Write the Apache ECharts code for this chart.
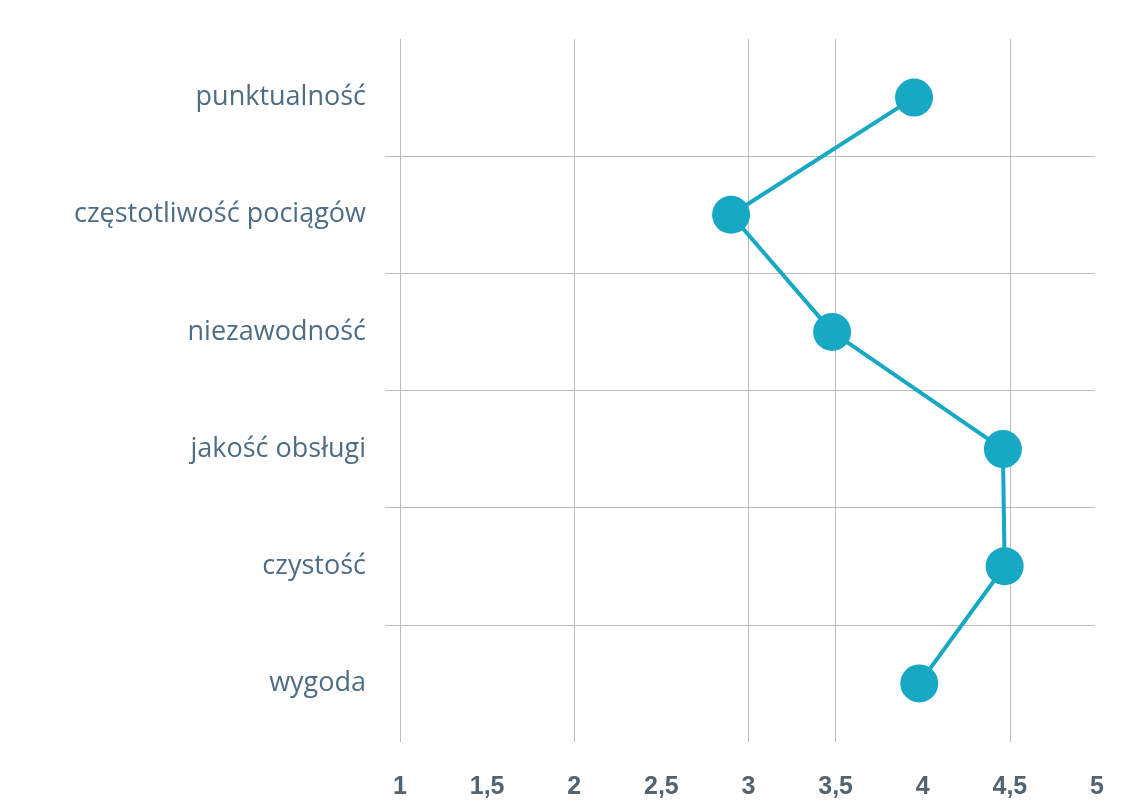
<!DOCTYPE html>
<html>
<head>
<meta charset="utf-8">
<script src="https://cdn.jsdelivr.net/npm/echarts@6/dist/echarts.min.js"></script>
<style>
html,body{margin:0;padding:0;background:#fff;}
#chart{width:1124px;height:803px;}
</style>
</head>
<body>
<div id="chart"></div>
<script>
const categories = ["punktualność", "częstotliwość pociągów", "niezawodność", "jakość obsługi", "czystość", "wygoda"];
const values = [3.95, 2.9, 3.48, 4.46, 4.47, 3.98];
const xTicks = [1, 1.5, 2, 2.5, 3, 3.5, 4, 4.5, 5];
const gridX = [1, 2, 3, 3.5, 4.5];

const chart = echarts.init(document.getElementById('chart'));
const gridColor = '#bdbdbd';
chart.setOption({
  animation: false,
  backgroundColor: '#fff',
  grid: [
    {left: 400, right: 27, top: 39, bottom: 61},
    {left: 385, right: 29, top: 39, bottom: 61}
  ],
  xAxis: [
    {
      type: 'value', gridIndex: 0,
      min: xTicks[0], max: xTicks[xTicks.length - 1], interval: 0.5,
      axisLine: {show: false}, axisTick: {show: false},
      splitLine: {show: false},
      axisLabel: {
        margin: 33,
        color: '#55636e', fontSize: 25, fontWeight: 'bold',
        fontFamily: 'Liberation Sans, Arial, sans-serif',
        formatter: v => String(v).replace('.', ',')
      }
    },
    {
      type: 'value', gridIndex: 1, min: 0, max: 1, show: false
    }
  ],
  yAxis: [
    {
      type: 'category', gridIndex: 0, data: categories, inverse: true,
      axisLine: {show: false}, axisTick: {show: false},
      splitLine: {show: false},
      axisLabel: {
        margin: 34,
        color: '#4e6d84', fontSize: 27,
        fontFamily: 'Open Sans, Noto Sans, sans-serif'
      }
    },
    {
      type: 'category', gridIndex: 1, data: categories, inverse: true,
      axisLine: {show: false}, axisTick: {show: false},
      axisLabel: {show: false},
      splitLine: {show: true, showMinLine: false, showMaxLine: false, lineStyle: {color: gridColor, width: 1}}
    }
  ],
  series: [
    {
      type: 'line', xAxisIndex: 0, yAxisIndex: 0,
      data: values,
      symbol: 'circle', symbolSize: 38,
      lineStyle: {color: '#17a9c4', width: 4},
      itemStyle: {color: '#17a9c4'},
      z: 5,
      markLine: {
        silent: true, symbol: 'none',
        label: {show: false},
        lineStyle: {color: gridColor, width: 1, type: 'solid'},
        data: gridX.map(v => ({xAxis: v})),
        z: 1
      }
    }
  ]
});
</script>
</body>
</html>
